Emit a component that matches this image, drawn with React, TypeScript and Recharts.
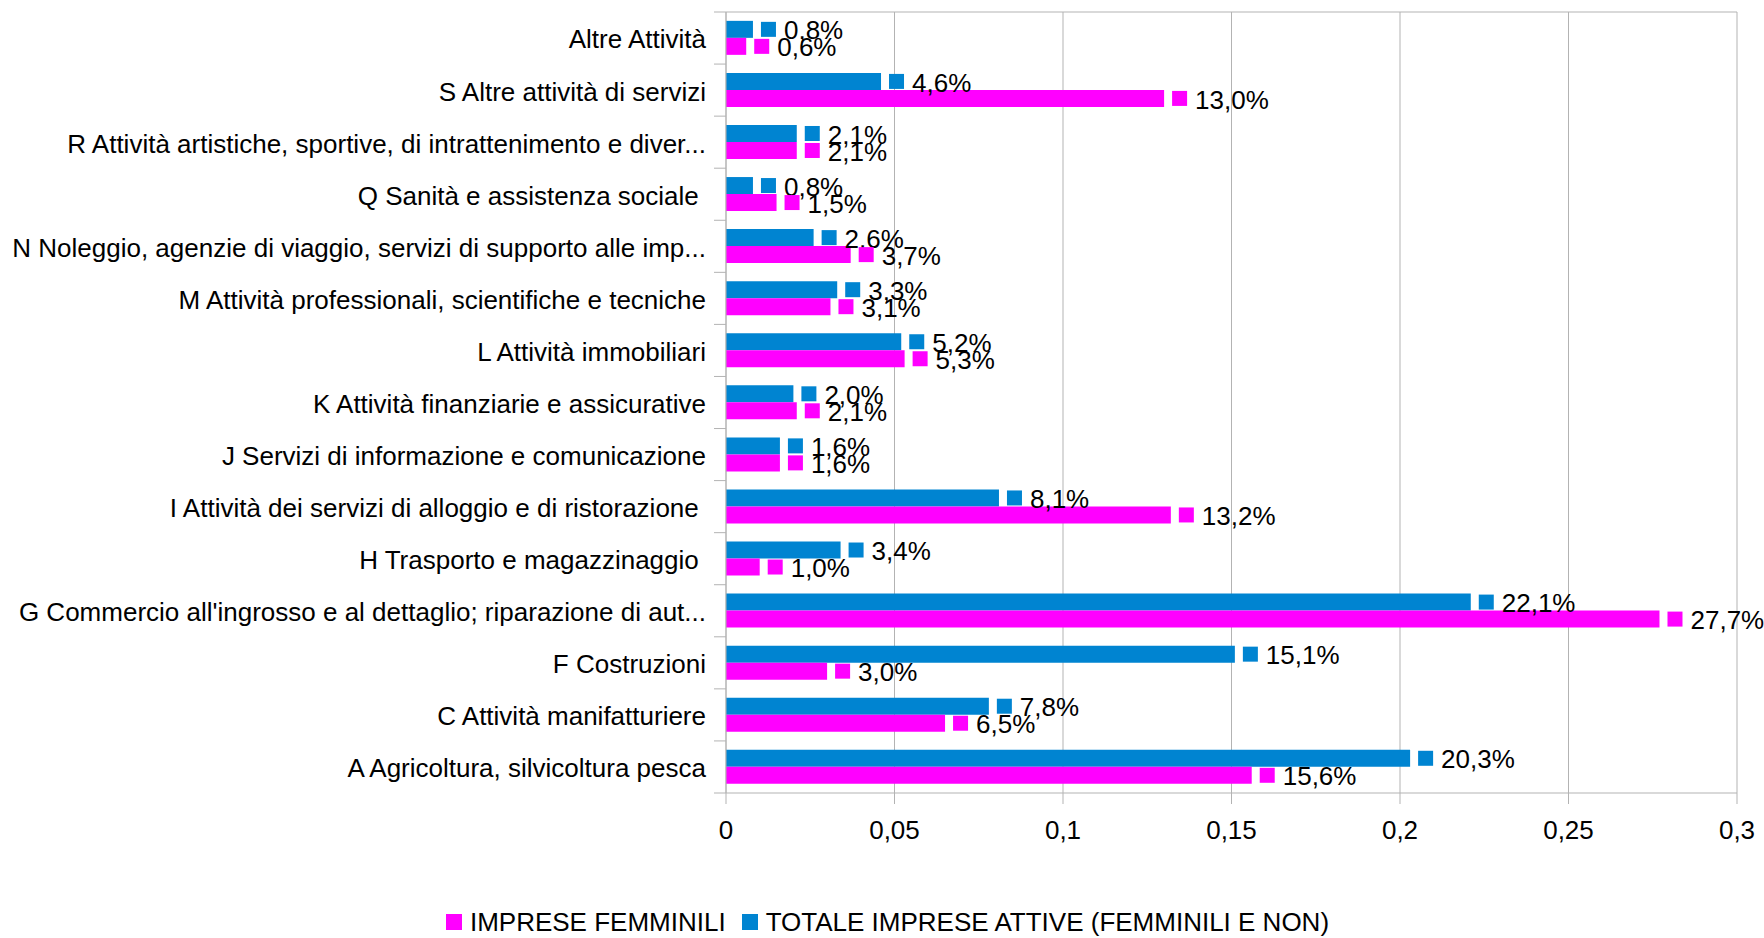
import React from "react";
import { BarChart, Bar, XAxis, YAxis, CartesianGrid, Legend } from "recharts";

const categories = [
  "Altre Attività",
  "S Altre attività di servizi",
  "R Attività artistiche, sportive, di intrattenimento e diver...",
  "Q Sanità e assistenza sociale ",
  "N Noleggio, agenzie di viaggio, servizi di supporto alle imp...",
  "M Attività professionali, scientifiche e tecniche",
  "L Attività immobiliari",
  "K Attività finanziarie e assicurative",
  "J Servizi di informazione e comunicazione",
  "I Attività dei servizi di alloggio e di ristorazione ",
  "H Trasporto e magazzinaggio ",
  "G Commercio all'ingrosso e al dettaglio; riparazione di aut...",
  "F Costruzioni",
  "C Attività manifatturiere",
  "A Agricoltura, silvicoltura pesca",
];

// share of total active firms (women-led and not)
const totale = [
  0.008, 0.046, 0.021, 0.008, 0.026, 0.033, 0.052, 0.02, 0.016, 0.081, 0.034,
  0.221, 0.151, 0.078, 0.203,
];

// share of women-led firms
const femminili = [
  0.006, 0.13, 0.021, 0.015, 0.037, 0.031, 0.053, 0.021, 0.016, 0.132, 0.01,
  0.277, 0.03, 0.065, 0.156,
];

const xTicks = [0, 0.05, 0.1, 0.15, 0.2, 0.25, 0.3];

const PINK = "#ff00ff";
const BLUE = "#0084d1";
const GRID = "#b3b3b3";
const FONT = "'Liberation Sans', Arial, sans-serif";
const FS = 26;

const W = 1764;
const H = 938;
const M = { top: 12, right: 27, bottom: 2, left: 0 };
const Y_W = 726;
const X_H = 115;
const LEGEND_H = 28;
const PLOT_H = H - M.top - M.bottom - X_H - LEGEND_H;
const PLOT_W = W - M.left - M.right - Y_W;
const BAND = PLOT_H / categories.length;
const TICK = 12;
const TICK_GAP = 8;

const data = categories.map((name, i) => ({
  name,
  totale: totale[i],
  femminili: femminili[i],
}));

function fmtAxis(v: number) {
  return String(v).replace(".", ",");
}

function fmtPct(v: number) {
  return (v * 100).toFixed(1).replace(".", ",") + "%";
}

// category label at band centre, tick marks on band boundaries (as in the source)
function CategoryTick(props: any) {
  const { x, y, payload, index } = props;
  const axisX = x + TICK_GAP + TICK;
  const top = y - BAND / 2;
  const bottom = y + BAND / 2;
  return (
    <g>
      <line
        x1={x + TICK_GAP}
        x2={index === 0 ? axisX + PLOT_W : axisX}
        y1={top}
        y2={top}
        stroke={GRID}
      />
      {index === categories.length - 1 && (
        <line x1={x + TICK_GAP} x2={axisX} y1={bottom} y2={bottom} stroke={GRID} />
      )}
      <text
        x={x}
        y={y}
        dy="0.4em"
        textAnchor="end"
        fontFamily={FONT}
        fontSize={FS}
        fill="#000"
        style={{ whiteSpace: "pre" }}
      >
        {payload.value}
      </text>
    </g>
  );
}

function makeLabel(color: string) {
  return function ValueLabel(props: any) {
    const { x, y, width, height, value } = props;
    const cy = y + height / 2;
    const sx = x + width + 8;
    return (
      <g>
        <rect x={sx} y={cy - 7.5} width={15} height={15} fill={color} />
        <text
          x={sx + 23}
          y={cy}
          dy="0.39em"
          fontFamily={FONT}
          fontSize={FS}
          fill="#000"
        >
          {fmtPct(value)}
        </text>
      </g>
    );
  };
}

function LegendContent() {
  const items = [
    { label: "IMPRESE FEMMINILI", color: PINK },
    { label: "TOTALE IMPRESE ATTIVE (FEMMINILI E NON)", color: BLUE },
  ];
  return (
    <div
      style={{
        display: "flex",
        justifyContent: "center",
        alignItems: "center",
        height: LEGEND_H,
        fontFamily: FONT,
        fontSize: FS,
        color: "#000",
        gap: 16,
        paddingLeft: 38,
      }}
    >
      {items.map((it) => (
        <div key={it.label} style={{ display: "flex", alignItems: "center" }}>
          <span
            style={{
              display: "inline-block",
              width: 16,
              height: 16,
              background: it.color,
              marginRight: 8,
            }}
          />
          <span>{it.label}</span>
        </div>
      ))}
    </div>
  );
}

export default function App() {
  return (
    <div
      style={{
        position: "absolute",
        left: 0,
        top: 0,
        width: W,
        height: H,
        background: "#fff",
      }}
    >
      <BarChart
        width={W}
        height={H}
        data={data}
        layout="vertical"
        margin={M}
        barCategoryGap="17%"
        barGap={0}
      >
        <CartesianGrid horizontal={false} stroke={GRID} />
        <XAxis
          type="number"
          domain={[0, 0.3]}
          ticks={xTicks}
          tickFormatter={fmtAxis}
          height={X_H}
          tickSize={11}
          tickMargin={17}
          stroke={GRID}
          tick={{ fill: "#000", fontSize: FS, fontFamily: FONT }}
          interval={0}
        />
        <YAxis
          type="category"
          dataKey="name"
          width={Y_W}
          tickSize={TICK}
          tickMargin={TICK_GAP}
          tickLine={false}
          stroke={GRID}
          interval={0}
          tick={<CategoryTick />}
        />
        <Bar
          dataKey="totale"
          name="TOTALE IMPRESE ATTIVE (FEMMINILI E NON)"
          fill={BLUE}
          isAnimationActive={false}
          label={makeLabel(BLUE)}
        />
        <Bar
          dataKey="femminili"
          name="IMPRESE FEMMINILI"
          fill={PINK}
          isAnimationActive={false}
          label={makeLabel(PINK)}
        />
        <Legend
          verticalAlign="bottom"
          height={LEGEND_H}
          content={<LegendContent />}
        />
      </BarChart>
    </div>
  );
}
